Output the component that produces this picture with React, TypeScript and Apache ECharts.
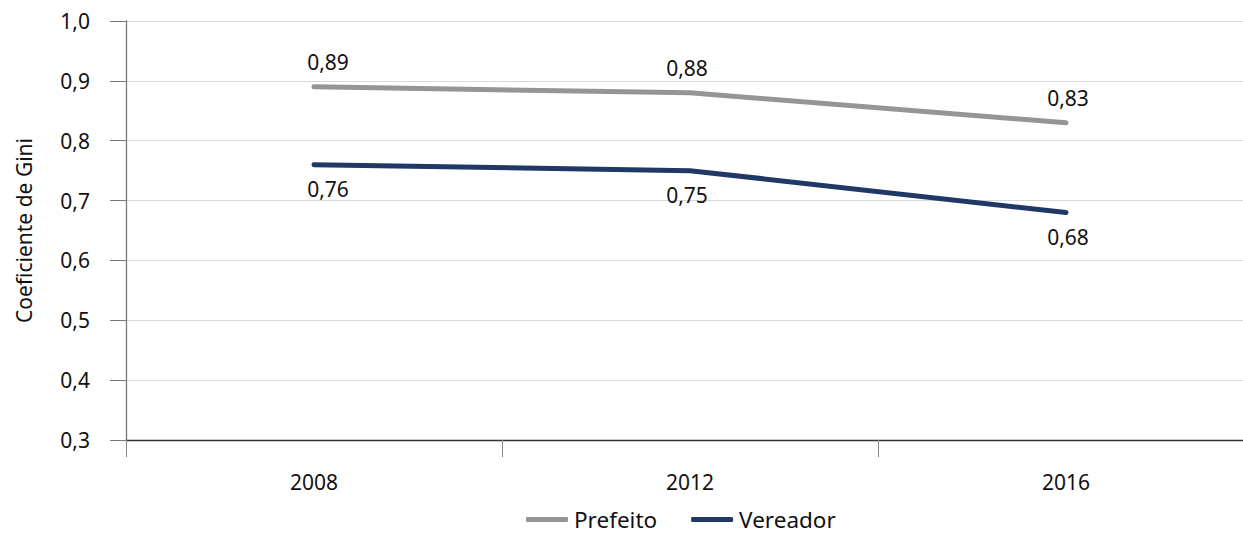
import React, { useEffect, useRef } from "react";
import * as echarts from "echarts";

const years = ["2008", "2012", "2016"];
const prefeito = [0.89, 0.88, 0.83];
const vereador = [0.76, 0.75, 0.68];
const yMin = 0.3;
const yMax = 1.0;
const yStep = 0.1;
const labelShiftX = [14, -3, 2];

const fmt = (v: number, d: number) => v.toFixed(d).replace(".", ",");
const FONT = "'Noto Sans', 'Open Sans', sans-serif";
const FS = 21;

const withShift = (arr: number[]) =>
  arr.map((v, i) => ({ value: v, label: { offset: [labelShiftX[i], 0] } }));

export default function App() {
  const ref = useRef<HTMLDivElement>(null);
  useEffect(() => {
    if (!ref.current) return;
    const chart = echarts.init(ref.current, undefined, { renderer: "svg" });
    chart.setOption({
      animation: false,
      textStyle: { fontFamily: FONT },
      grid: {
        left: 126,
        top: 21,
        width: 1128,
        height: 419,
        containLabel: false,
        outerBoundsMode: "none",
      },
      legend: {
        top: 508,
        left: 526,
        padding: 0,
        itemWidth: 42,
        itemHeight: 5,
        itemGap: 34,
        icon: "roundRect",
        textStyle: {
          fontSize: 22.5,
          lineHeight: 22,
          color: "#111",
          fontFamily: FONT,
          padding: [0, 0, 0, 1],
        },
        data: ["Prefeito", "Vereador"],
      },
      xAxis: {
        type: "category",
        data: years,
        boundaryGap: true,
        axisLine: { lineStyle: { color: "#333", width: 1.3 } },
        axisTick: { show: true, length: 17, lineStyle: { color: "#888" } },
        axisLabel: { fontSize: FS, color: "#111", margin: 31, fontFamily: FONT },
      },
      yAxis: {
        type: "value",
        min: yMin,
        max: yMax,
        interval: yStep,
        name: "Coeficiente de Gini",
        nameLocation: "middle",
        nameGap: 92,
        nameTextStyle: { fontSize: FS, color: "#111", fontFamily: FONT },
        axisLine: { show: true, lineStyle: { color: "#777", width: 1.3 } },
        axisTick: { show: true, length: 16, lineStyle: { color: "#777" } },
        axisLabel: {
          fontSize: FS,
          color: "#111",
          margin: 36,
          fontFamily: FONT,
          formatter: (v: number) => fmt(v, 1),
        },
        splitLine: { lineStyle: { color: "#d9d9d9", width: 1.2 } },
      },
      series: [
        {
          name: "Prefeito",
          type: "line",
          data: withShift(prefeito),
          symbol: "circle",
          symbolSize: 0,
          showSymbol: true,
          lineStyle: { color: "#959595", width: 5, cap: "round" },
          itemStyle: { color: "#959595" },
          label: {
            show: true,
            position: "top",
            distance: 14,
            fontSize: FS,
            color: "#111",
            fontFamily: FONT,
            formatter: (p: any) => fmt(p.value, 2),
          },
        },
        {
          name: "Vereador",
          type: "line",
          data: withShift(vereador),
          symbol: "circle",
          symbolSize: 0,
          showSymbol: true,
          lineStyle: { color: "#203864", width: 5, cap: "round" },
          itemStyle: { color: "#203864" },
          label: {
            show: true,
            position: "bottom",
            distance: 14,
            fontSize: FS,
            color: "#111",
            fontFamily: FONT,
            formatter: (p: any) => fmt(p.value, 2),
          },
        },
      ],
    });
    return () => chart.dispose();
  }, []);
  return (
    <div
      ref={ref}
      style={{ position: "absolute", left: 0, top: 0, width: 1243, height: 534 }}
    />
  );
}
